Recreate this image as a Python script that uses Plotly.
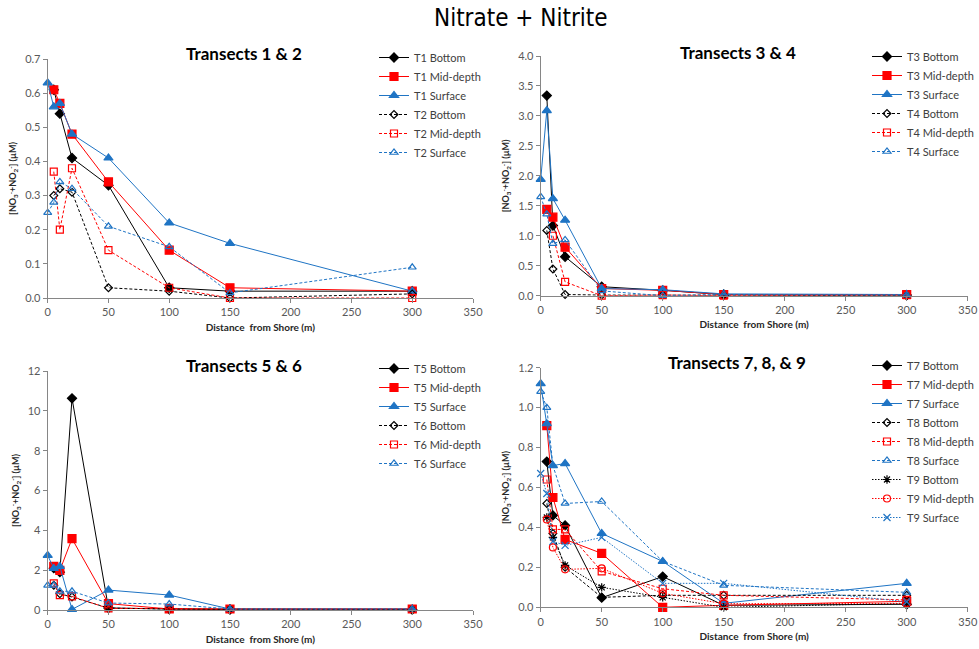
import plotly.graph_objects as go

# Sampling distances from shore (m)
dist_all = [0, 5, 10, 20, 50, 100, 150, 300]
dist_5 = [5, 10, 20, 50, 100, 150, 300]
dist_10 = [10, 20, 50, 100, 150, 300]

# Nitrate + nitrite concentrations (uM)
t1_bottom = [0.61, 0.54, 0.41, 0.33, 0.03, 0.02, 0.02]
t1_mid = [0.61, 0.57, 0.48, 0.34, 0.14, 0.03, 0.02]
t1_surface = [0.63, 0.56, 0.57, 0.48, 0.41, 0.22, 0.16, 0.02]
t2_bottom = [0.30, 0.32, 0.31, 0.03, 0.02, 0.00, 0.012]
t2_mid = [0.37, 0.20, 0.38, 0.14, 0.03, 0.00, 0.00]
t2_surface = [0.25, 0.28, 0.34, 0.32, 0.21, 0.15, 0.015, 0.09]

t3_bottom = [3.34, 1.17, 0.65, 0.15, 0.09, 0.02, 0.01]
t3_mid = [1.44, 1.31, 0.81, 0.12, 0.09, 0.02, 0.02]
t3_surface = [1.94, 3.09, 1.62, 1.26, 0.12, 0.10, 0.03, 0.02]
t4_bottom = [1.09, 0.445, 0.02, 0.01, 0.01, 0.01, 0.00]
t4_mid = [1.00, 0.23, 0.00, 0.01, 0.00, 0.01]
t4_surface = [1.65, 1.36, 0.87, 0.93, 0.08, 0.00, 0.02, 0.01]

t5_bottom = [2.10, 1.90, 10.63, 0.10, 0.05, 0.02, 0.02]
t5_mid = [2.19, 1.99, 3.58, 0.32, 0.05, 0.05, 0.05]
t5_surface = [2.74, 2.09, 2.19, 0.03, 1.00, 0.75, 0.05, 0.05]
t6_bottom = [1.24, 0.82, 0.65, 0.10, 0.05, 0.05, 0.03]
t6_mid = [1.34, 0.75, 0.68, 0.08, 0.08, 0.05, 0.05]
t6_surface = [1.24, 1.24, 0.94, 0.94, 0.35, 0.30, 0.05, 0.05]

t7_bottom = [0.73, 0.46, 0.41, 0.048, 0.154, 0.01, 0.015]
t7_mid = [0.91, 0.55, 0.34, 0.27, 0.00, 0.01, 0.03]
t7_surface = [1.12, 0.92, 0.71, 0.72, 0.37, 0.23, 0.02, 0.12]
t8_bottom = [0.52, 0.37, 0.20, 0.05, 0.06, 0.06, 0.06]
t8_mid = [0.64, 0.39, 0.39, 0.18, 0.093, 0.06, 0.037]
t8_surface = [1.08, 1.00, 0.71, 0.52, 0.53, 0.23, 0.11, 0.075]
t9_bottom = [0.45, 0.35, 0.21, 0.10, 0.05, 0.00, 0.02]
t9_mid = [0.44, 0.30, 0.19, 0.195, 0.07, 0.018, 0.02]
t9_surface = [0.67, 0.57, 0.33, 0.31, 0.35, 0.12, 0.12, 0.028]

BLACK = "#000000"
RED = "#FF0000"
BLUE = "#1F74C4"
AXIS = "#868686"
TICKTXT = "#595959"
FONT = "Lato, Open Sans, sans-serif"

DASH = "3px,2px"
DOT = "1.5px,1.5px"

fig = go.Figure()

# marker styles per role: (symbol, size, colour)
STYLE = {
    "bottom_solid": ("diamond", 7, BLACK),
    "mid_solid": ("square", 8, RED),
    "surf_solid": ("triangle-up", 8, BLUE),
    "bottom_open": ("diamond-open", 6, BLACK),
    "mid_open": ("square-open", 7, RED),
    "surf_open": ("triangle-up-open", 7, BLUE),
    "bottom_star": ("asterisk-open", 7, BLACK),
    "mid_circle": ("circle-open", 7, RED),
    "surf_x": ("x-thin-open", 7, BLUE),
}


def add(name, x, y, style, dash, ax):
    sym, size, color = STYLE[style]
    fig.add_trace(go.Scatter(
        x=x, y=y, name=name, mode="lines+markers",
        line=dict(color=color, width=1, dash=dash),
        marker=dict(symbol=sym, size=size, color=color,
                    line=dict(color=color, width=1.2)),
        xaxis="x" + ax, yaxis="y" + ax, legend="legend" + ax,
        cliponaxis=False,
    ))


add("T1 Bottom", dist_5, t1_bottom, "bottom_solid", "solid", "")
add("T1 Mid-depth", dist_5, t1_mid, "mid_solid", "solid", "")
add("T1 Surface", dist_all, t1_surface, "surf_solid", "solid", "")
add("T2 Bottom", dist_5, t2_bottom, "bottom_open", DASH, "")
add("T2 Mid-depth", dist_5, t2_mid, "mid_open", DASH, "")
add("T2 Surface", dist_all, t2_surface, "surf_open", DASH, "")

add("T3 Bottom", dist_5, t3_bottom, "bottom_solid", "solid", "2")
add("T3 Mid-depth", dist_5, t3_mid, "mid_solid", "solid", "2")
add("T3 Surface", dist_all, t3_surface, "surf_solid", "solid", "2")
add("T4 Bottom", dist_5, t4_bottom, "bottom_open", DASH, "2")
add("T4 Mid-depth", dist_10, t4_mid, "mid_open", DASH, "2")
add("T4 Surface", dist_all, t4_surface, "surf_open", DASH, "2")

add("T5 Bottom", dist_5, t5_bottom, "bottom_solid", "solid", "3")
add("T5 Mid-depth", dist_5, t5_mid, "mid_solid", "solid", "3")
add("T5 Surface", dist_all, t5_surface, "surf_solid", "solid", "3")
add("T6 Bottom", dist_5, t6_bottom, "bottom_open", DASH, "3")
add("T6 Mid-depth", dist_5, t6_mid, "mid_open", DASH, "3")
add("T6 Surface", dist_all, t6_surface, "surf_open", DASH, "3")

add("T7 Bottom", dist_5, t7_bottom, "bottom_solid", "solid", "4")
add("T7 Mid-depth", dist_5, t7_mid, "mid_solid", "solid", "4")
add("T7 Surface", dist_all, t7_surface, "surf_solid", "solid", "4")
add("T8 Bottom", dist_5, t8_bottom, "bottom_open", DASH, "4")
add("T8 Mid-depth", dist_5, t8_mid, "mid_open", DASH, "4")
add("T8 Surface", dist_all, t8_surface, "surf_open", DASH, "4")
add("T9 Bottom", dist_5, t9_bottom, "bottom_star", DOT, "4")
add("T9 Mid-depth", dist_5, t9_mid, "mid_circle", DOT, "4")
add("T9 Surface", dist_all, t9_surface, "surf_x", DOT, "4")

W, H = 979, 649


def px_x(p):
    return p / W


def px_y(p):
    return 1 - p / H


YTITLE = "[NO<sub>3</sub><sup>-</sup>+NO<sub>2</sub><sup>-</sup>] (µM)"
XTITLE = "Distance  from Shore (m)"


def xaxis(left, right, anchor):
    return dict(
        domain=[px_x(left), px_x(right)], anchor=anchor, range=[0, 350],
        dtick=50, tick0=0, showgrid=False, zeroline=False,
        showline=True, linecolor=AXIS, linewidth=1,
        ticks="outside", ticklen=4, tickcolor=AXIS,
        tickfont=dict(family=FONT, size=11, color=TICKTXT),
        title=dict(text="<b>" + XTITLE + "</b>", standoff=6,
                   font=dict(family=FONT, size=10, color="#262626")),
    )


def yaxis(top, bottom, anchor, rmax, dt, fmt):
    return dict(
        domain=[px_y(bottom), px_y(top)], anchor=anchor, range=[0, rmax],
        dtick=dt, tick0=0, tickformat=fmt, showgrid=False, zeroline=False,
        showline=True, linecolor=AXIS, linewidth=1,
        ticks="outside", ticklen=4, tickcolor=AXIS,
        tickfont=dict(family=FONT, size=11, color=TICKTXT),
        title=dict(text="<b>" + YTITLE + "</b>", standoff=6,
                   font=dict(family=FONT, size=9, color="#262626")),
    )


def legend(xp, yp):
    return dict(
        x=px_x(xp), y=px_y(yp), xanchor="left", yanchor="top",
        font=dict(family=FONT, size=11, color="#404040"),
        bgcolor="rgba(0,0,0,0)", traceorder="normal", itemwidth=30,
    )


fig.update_layout(
    width=W, height=H,
    margin=dict(l=0, r=0, t=0, b=0, autoexpand=False),
    paper_bgcolor="white", plot_bgcolor="white",
    showlegend=True,
    xaxis=xaxis(47.7, 473, "y"),
    yaxis=yaxis(59, 298, "x", 0.7, 0.1, ".1f"),
    xaxis2=xaxis(540.7, 967.7, "y2"),
    yaxis2=yaxis(56, 295.7, "x2", 4.0, 0.5, ".1f"),
    xaxis3=xaxis(47.7, 473, "y3"),
    yaxis3=yaxis(371, 610, "x3", 12, 2, "d"),
    xaxis4=xaxis(540.7, 967.7, "y4"),
    yaxis4=yaxis(367.7, 607.3, "x4", 1.2, 0.2, ".1f"),
    legend=legend(374, 43),
    legend2=legend(867, 42),
    legend3=legend(374, 354),
    legend4=legend(867, 351),
)

titles = [
    ("Nitrate + Nitrite", 521, 18, 24, False),
    ("Transects 1 & 2", 244, 53, 17, True),
    ("Transects 3 & 4", 738, 52, 17, True),
    ("Transects 5 & 6", 244, 365, 17, True),
    ("Transects 7, 8, & 9", 737, 362, 17, True),
]
for text, cx, cy, size, bold in titles:
    fig.add_annotation(
        text="<b>" + text + "</b>" if bold else text,
        x=px_x(cx), y=px_y(cy), xref="paper", yref="paper",
        xanchor="center", yanchor="middle", showarrow=False,
        font=dict(family=FONT if bold else "Liberation Sans Narrow, DejaVu Sans Condensed, Lato",
                  size=size, color="#000000"),
    )

fig.write_html("out.html")
